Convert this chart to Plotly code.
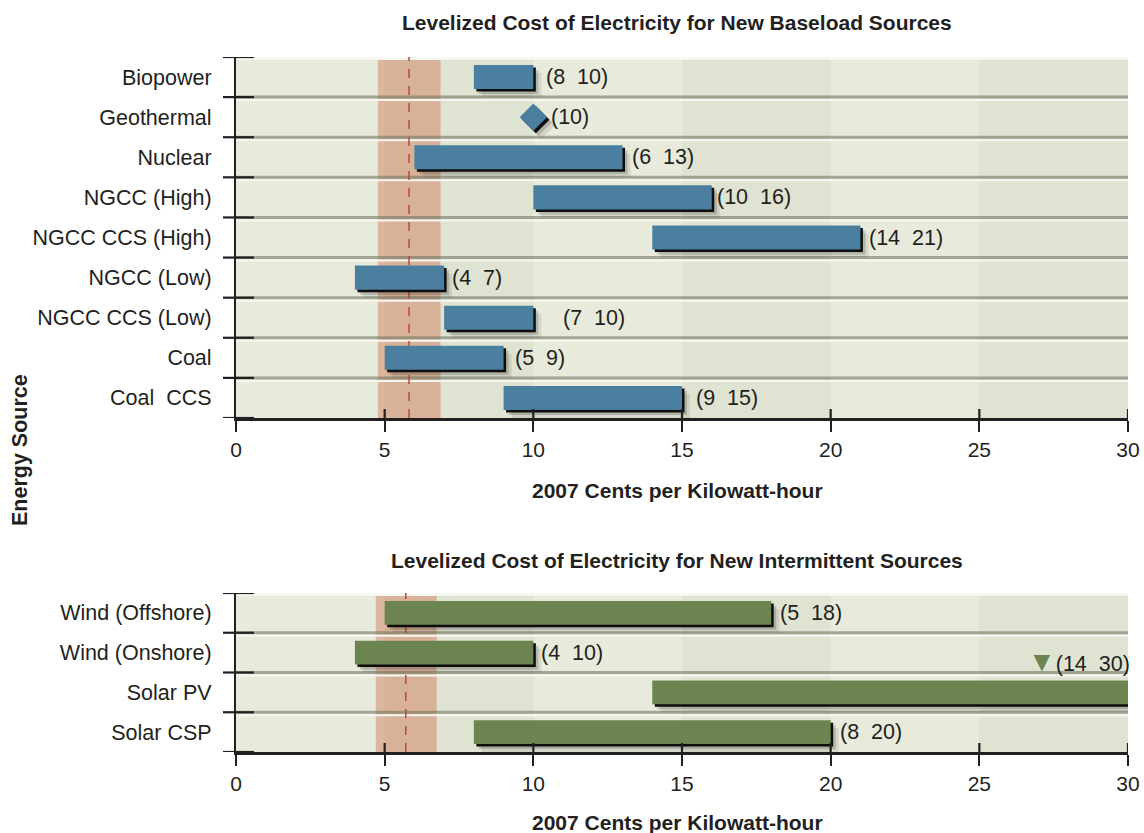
import plotly.graph_objects as go

# ---------------- data ----------------
base_categories = ["Biopower", "Geothermal", "Nuclear", "NGCC (High)", "NGCC CCS (High)",
                   "NGCC (Low)", "NGCC CCS (Low)", "Coal", "Coal  CCS"]
base_low = [8, 10, 6, 10, 14, 4, 7, 5, 9]
base_high = [10, 10, 13, 16, 21, 7, 10, 9, 15]

inter_categories = ["Wind (Offshore)", "Wind (Onshore)", "Solar PV", "Solar CSP"]
inter_low = [5, 4, 14, 8]
inter_high = [18, 10, 30, 20]

x_ticks = [0, 5, 10, 15, 20, 25, 30]
base_band = [4.77, 6.88]
base_mid = 5.82
inter_band = [4.70, 6.75]
inter_mid = 5.71

title_base = "Levelized Cost of Electricity for New Baseload Sources"
title_inter = "Levelized Cost of Electricity for New Intermittent Sources"
x_title = "2007 Cents per Kilowatt-hour"
y_title = "Energy Source"

# ---------------- style ----------------
OFF = 0
W, H = 1144, 833
FONT = "Liberation Sans, Arial, sans-serif"
INK = "#231f20"
LIGHT = "#e8eadc"
DARK = "#dfe3d1"
BLUE = "#4b7f9f"
GREEN = "#6b8450"
SEP = "rgba(115,120,100,0.6)"
ORANGE = "rgba(208,130,95,0.5)"
DASH = "#c0463a"
XMIN, XMAX = 0, 30
PX_LEFT, PX_RIGHT = 236, 1128


def px(x):
    return (x - OFF) / W


def py(y):
    return 1 - (y - OFF) / H


x_dom = [px(PX_LEFT), px(PX_RIGHT)]
label_gap_default = 7
label_gap = {"NGCC CCS (Low)": 28, "Biopower": 11, "Coal  CCS": 12, "NGCC (High)": 3,
             "NGCC (Low)": 6, "Coal": 9, "Wind (Onshore)": 6}

fig = go.Figure()
shapes = []
annotations = []


def nb(s):
    return s.replace(" ", "\u00a0")


def panel(cats, low, high, color, xa, ya, top_px, bot_px, band, mid):
    n = len(cats)
    idx = list(range(n))
    xr = "x" if xa == "xaxis" else "x2"
    yr = "y" if ya == "yaxis" else "y2"
    row_px = (bot_px - top_px) / n
    ux = (PX_RIGHT - PX_LEFT) / (XMAX - XMIN)  # px per x unit
    uy = row_px  # px per y unit

    # column bands + reference band
    for a in range(XMIN, XMAX, 10):
        shapes.append(dict(type="rect", xref=xr, yref=yr + " domain", x0=a + 5, x1=a + 10, y0=0, y1=1,
                           fillcolor=DARK, line=dict(width=0), layer="below"))
    shapes.append(dict(type="rect", xref=xr, yref=yr + " domain", x0=band[0], x1=band[1], y0=0, y1=1,
                       fillcolor=ORANGE, line=dict(width=0), layer="below"))
    # row separators
    shapes.append(dict(type="line", xref=xr + " domain", yref=yr, x0=0, x1=1, y0=-0.5 + 1.5 / uy,
                       y1=-0.5 + 1.5 / uy, line=dict(color="#f6f7f1", width=3), layer="below"))
    for k in range(n - 1):
        yb = k + 0.5
        shapes.append(dict(type="line", xref=xr + " domain", yref=yr, x0=0, x1=1, y0=yb, y1=yb,
                           line=dict(color=SEP, width=3), layer="below"))
        shapes.append(dict(type="line", xref=xr + " domain", yref=yr, x0=0, x1=1, y0=yb + 3 / uy,
                           y1=yb + 3 / uy, line=dict(color="#f6f7f1", width=2), layer="below"))
    # dashed reference
    shapes.append(dict(type="line", xref=xr, yref=yr + " domain", x0=mid, x1=mid, y0=0, y1=1,
                       line=dict(color=DASH, width=1.5, dash="9px,8px"), layer="below"))
    # y ticks crossing the axis
    for k in range(n + 1):
        yb = k - 0.5
        shapes.append(dict(type="line", xref="paper", yref=yr, x0=px(PX_LEFT - 13),
                           x1=px(PX_LEFT + 18), y0=yb, y1=yb, line=dict(color=INK, width=2.2),
                           layer="above"))
    # inner part of x ticks
    for t in x_ticks[1:]:
        shapes.append(dict(type="line", xref=xr, yref=yr + " domain", x0=t, x1=t, y0=0,
                           y1=9 / (bot_px - top_px), line=dict(color=INK, width=2.2), layer="above"))

    bi = [i for i in idx if high[i] > low[i]]
    bl = [low[i] for i in bi]
    bw = [high[i] - low[i] for i in bi]
    layers = [
        ("rgba(40,40,40,0.10)", 8, 8),
        ("rgba(40,40,40,0.20)", 5, 5),
        ("#0d0d0d", 2.5, 2.5),
        (color, 0, 0),
    ]
    for col, dx, dy in layers:
        fig.add_trace(go.Bar(
            y=bi, x=bw, base=[b + dx / ux for b in bl], orientation="h",
            width=0.6, offset=-0.3 + dy / uy, marker=dict(color=col, line=dict(width=0)),
            xaxis=xr, yaxis=yr, hoverinfo="skip", showlegend=False))

    pi = [i for i in idx if high[i] == low[i]]
    if pi:
        for col, dx, dy in layers:
            fig.add_trace(go.Scatter(
                x=[high[i] + dx / ux for i in pi], y=[i + dy / uy for i in pi],
                mode="markers", marker=dict(symbol="diamond", size=21, color=col, line=dict(width=0)),
                xaxis=xr, yaxis=yr, hoverinfo="skip", showlegend=False, cliponaxis=False))

    # labels
    lf = dict(size=21.5, color=INK, family=FONT)
    for i in idx:
        if high[i] == low[i]:
            annotations.append(dict(x=high[i], y=i, xref=xr, yref=yr, text=f"({high[i]})",
                                    showarrow=False, xanchor="left", xshift=16, font=lf))
        elif high[i] >= XMAX:
            txt = (f'<span style="color:{color};font-size:28px">\u25bc</span>'
                   f"({low[i]}\u00a0\u00a0{high[i]})")
            annotations.append(dict(x=high[i], y=i, xref=xr, yref=yr, text=txt, showarrow=False,
                                    xanchor="right", xshift=4, yshift=31, font=lf))
        else:
            txt = f"({low[i]}\u00a0\u00a0{high[i]})"
            annotations.append(dict(x=high[i], y=i, xref=xr, yref=yr, text=txt, showarrow=False,
                                    xanchor="left", xshift=label_gap.get(cats[i], label_gap_default),
                                    font=lf))

    fig.layout[xa] = dict(domain=x_dom, range=[XMIN, XMAX], tickvals=x_ticks, ticks="outside",
                          ticklen=11, tickwidth=2.2, tickcolor=INK, showline=True, linewidth=2.5,
                          linecolor=INK, showgrid=False, zeroline=False, anchor=yr, automargin=False,
                          tickfont=dict(size=21, color=INK, family=FONT), ticklabelstandoff=0)
    fig.layout[ya] = dict(domain=[py(bot_px), py(top_px)], range=[n - 0.5, -0.5],
                          tickvals=idx, ticktext=[nb(c) for c in cats], ticks="", showline=True,
                          linewidth=2.2, linecolor=INK, showgrid=False, zeroline=False, anchor=xr,
                          automargin=False,
                          tickfont=dict(size=21.5, color=INK, family=FONT), ticklabelstandoff=18)


panel(base_categories, base_low, base_high, BLUE, "xaxis", "yaxis", 57, 418, base_band, base_mid)
panel(inter_categories, inter_low, inter_high, GREEN, "xaxis2", "yaxis2", 593, 752, inter_band, inter_mid)

cx = px(677)
for txt, ypx in [(title_base, 22), (x_title, 490), (title_inter, 560), (x_title, 822)]:
    annotations.append(dict(x=cx, y=py(ypx), xref="paper", yref="paper", text=f"<b>{txt}</b>",
                            showarrow=False, xanchor="center", yanchor="middle",
                            font=dict(size=21, color=INK, family=FONT)))
annotations.append(dict(x=px(20), y=py(450), xref="paper", yref="paper", text=f"<b>{y_title}</b>",
                        showarrow=False, textangle=-90, xanchor="center", yanchor="middle",
                        font=dict(size=21.5, color=INK, family=FONT)))

fig.update_layout(width=W, height=H, margin=dict(l=0, r=0, t=0, b=0, autoexpand=False),
                  barmode="overlay",
                  plot_bgcolor=LIGHT, paper_bgcolor="white", showlegend=False,
                  shapes=shapes, annotations=annotations, font=dict(family=FONT, color=INK))

fig.write_html("out.html", config={"displayModeBar": False},
               post_script="document.body.style.margin='0';document.body.style.overflow='hidden';")
